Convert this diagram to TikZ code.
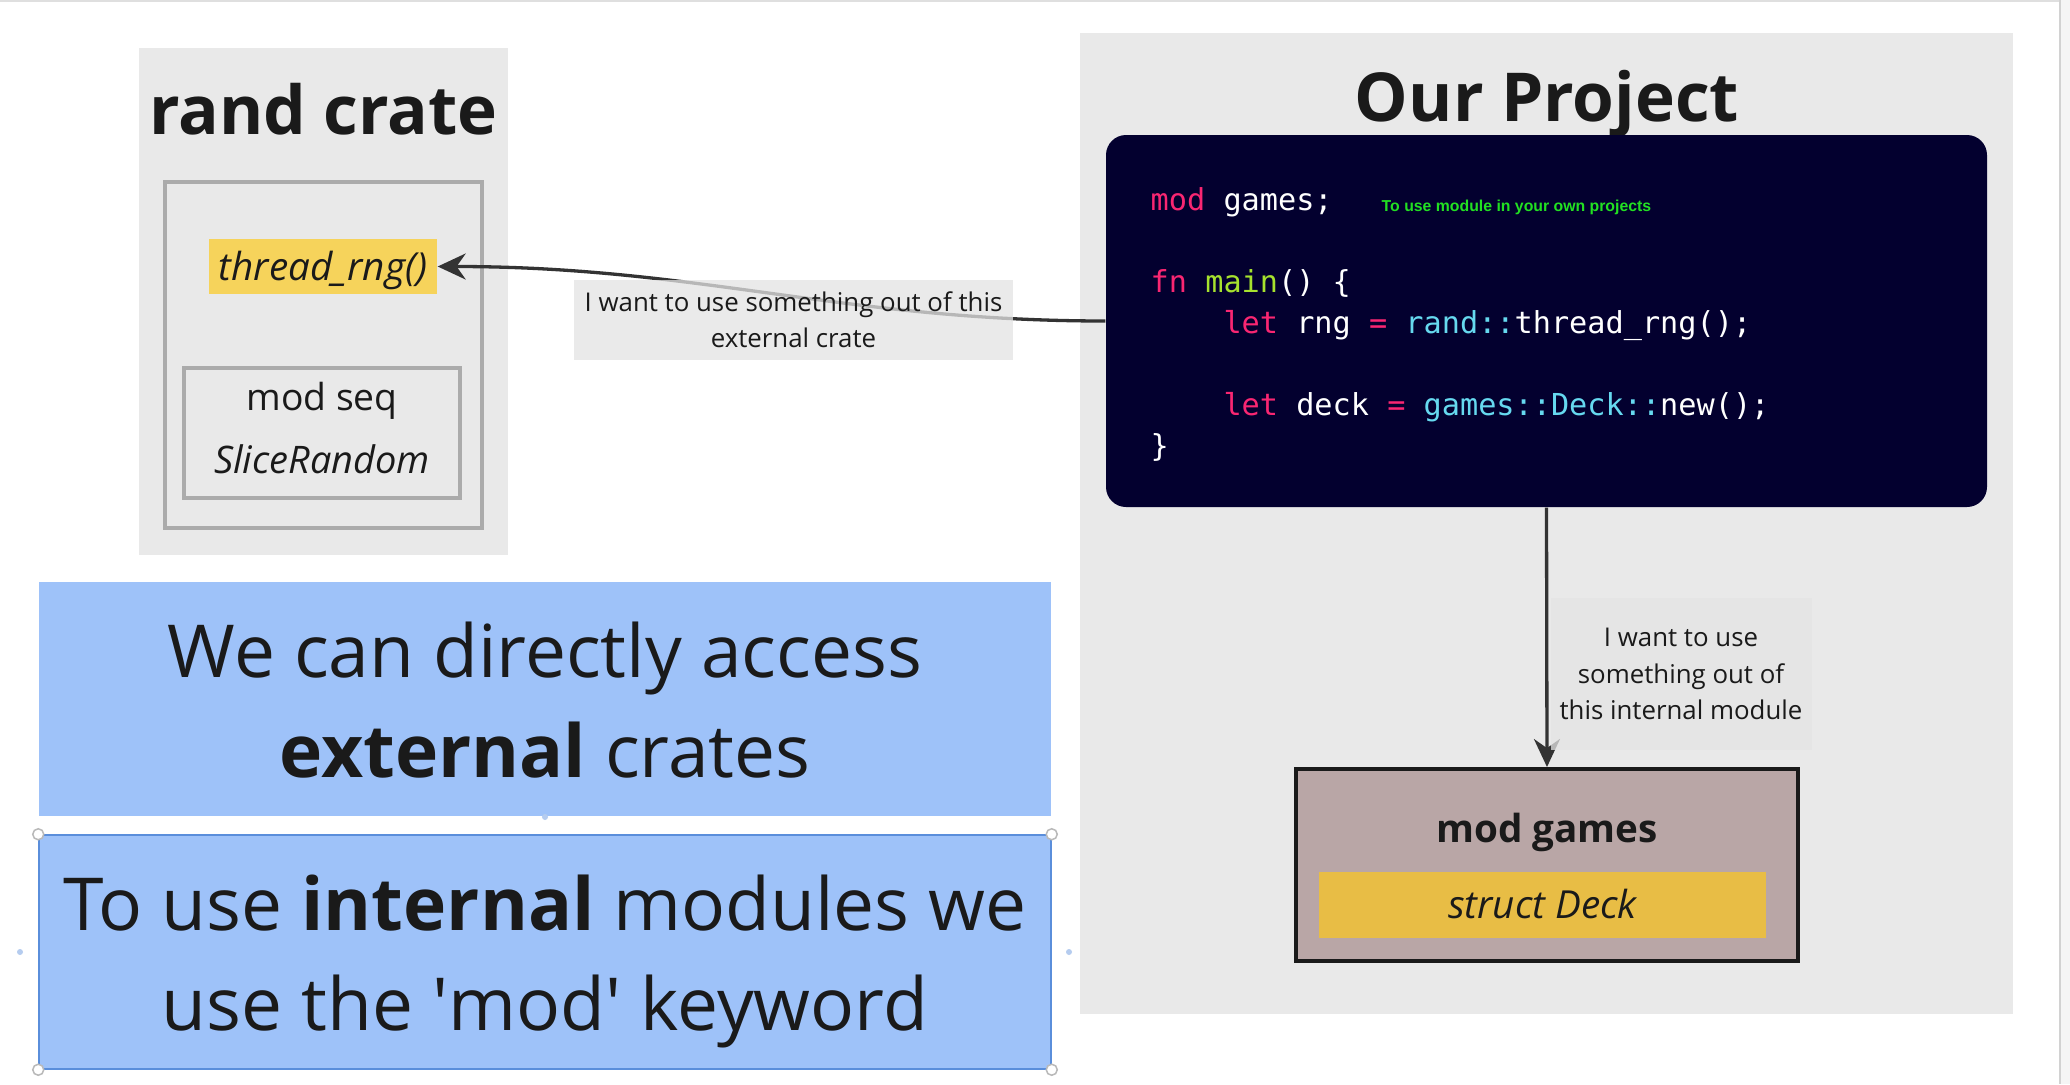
\documentclass[tikz,border=0pt]{standalone}
\usepackage{fontspec}
\setmainfont{Open Sans}
\setmonofont{DejaVu Sans Mono}
\newfontfamily\notefont{Liberation Sans}
\usetikzlibrary{arrows.meta}
\definecolor{PanelGray}{HTML}{E9E9E9}
\definecolor{TagGray}{HTML}{E4E4E4}
\definecolor{FrameGray}{HTML}{ABABAB}
\definecolor{RngYellow}{HTML}{F6D35B}
\definecolor{DeckYellow}{HTML}{E8BD45}
\definecolor{CodeBg}{HTML}{03002F}
\definecolor{KwPink}{HTML}{F92672}
\definecolor{FnGreen}{HTML}{A6E22E}
\definecolor{PathCyan}{HTML}{66D9EF}
\definecolor{Mauve}{HTML}{B9A6A6}
\definecolor{NoteBlue}{HTML}{9EC2F9}
\definecolor{NoteEdge}{HTML}{5A8EDB}
\definecolor{Ink}{HTML}{1A1A1A}
\definecolor{LinkInk}{HTML}{333333}
\definecolor{HintGreen}{HTML}{22E022}

\begin{document}
\begin{tikzpicture}[x=0.1mm,y=-0.1mm,>={Stealth[length=2.8mm,width=2.6mm]},
    every node/.style={text=Ink},
    panel/.style={fill=PanelGray,inner sep=0pt},
    frame/.style={draw=FrameGray,line width=0.4mm,inner sep=0pt},
    link/.style={->,draw=LinkInk,line width=0.33mm},
    tag/.style={fill=TagGray,inner sep=0pt,align=center,font=\fontsize{7.35}{10.3}\selectfont},
    note/.style={fill=NoteBlue,inner sep=0pt,minimum width=101.2mm,minimum height=23.4mm},
    notetext/.style={anchor=base,align=center,inner sep=0pt,font=\fontsize{20.8}{28.45}\selectfont},
    handle/.style={circle,draw=gray!55,fill=white,line width=0.15mm,inner sep=0pt,minimum size=1.1mm},
    dot/.style={circle,fill=NoteEdge!45,inner sep=0pt,minimum size=0.6mm}]
      \fill[white] (0,0) rectangle (2070,1084);
      \useasboundingbox (0,0) rectangle (2070,1084);
      \draw[gray!25,line width=0.2mm] (0,1) -- (2060,1);
      \fill[gray!8] (2060,0) rectangle (2070,1084);
      \draw[gray!35,line width=0.15mm] (2060,0) -- (2060,1084);

      % rand crate
      \node[panel,minimum width=36.9mm,minimum height=50.7mm] (randpanel) at (323.5,301.5) {};
      \node[anchor=base,font=\fontsize{19.2}{23}\selectfont\bfseries] (randtitle) at (323.5,134) {rand crate};
      \node[frame,minimum width=31.7mm,minimum height=34.6mm] (cratebox) at (323.5,355) {};
      \node[anchor=base,fill=RngYellow,inner sep=0pt,minimum width=22.8mm,text height=4.1mm,text depth=1.4mm,
        font=\fontsize{11}{13}\selectfont\itshape] (threadrng) at (323,280) {thread\_rng()};
      \node[frame,minimum width=27.6mm,minimum height=13mm] (seqbox) at (322,433) {};
      \node[anchor=base,font=\fontsize{10.6}{12}\selectfont] (seqname) at (322,410) {mod seq};
      \node[anchor=base,font=\fontsize{10.8}{12}\selectfont\itshape] (slicerandom) at (322,473) {SliceRandom};

      % our project
      \node[panel,minimum width=93.3mm,minimum height=98.1mm] (projpanel) at (1546.5,523.5) {};
      \node[anchor=base,font=\fontsize{19.2}{23}\selectfont\bfseries] (projtitle) at (1547,121) {Our Project};
      \node[fill=CodeBg,rounded corners=2mm,inner sep=0pt,minimum width=88.1mm,minimum height=37.2mm] (codebox) at (1546.5,321) {};
      \node[anchor=base west,align=left,inner sep=0pt,text=white,font=\fontsize{8.6}{11.66}\selectfont\ttfamily] (code) at (1150,456)
        {\textcolor{KwPink}{mod} games;\\
         \mbox{}\\
         \textcolor{KwPink}{fn} \textcolor{FnGreen}{main}() \{\\
         \ \ \ \ \textcolor{KwPink}{let} rng \textcolor{KwPink}{=} \textcolor{PathCyan}{rand::}thread\_rng();\\
         \mbox{}\\
         \ \ \ \ \textcolor{KwPink}{let} deck \textcolor{KwPink}{=} \textcolor{PathCyan}{games::Deck::}new();\\
         \}};
      \node[anchor=west,inner sep=0pt,text=HintGreen,font=\notefont\fontsize{4.5}{5.5}\selectfont\bfseries] (codehint) at (1381,207)
        {To use module in your own projects};

      \node[draw=Ink,fill=Mauve,line width=0.4mm,inner sep=0pt,minimum width=50.2mm,minimum height=19.2mm] (modgames) at (1547,865) {};
      \node[anchor=base,font=\fontsize{11}{13}\selectfont\bfseries] (gamesname) at (1547,842) {mod games};
      \node[anchor=base,fill=DeckYellow,inner sep=0pt,minimum width=44.7mm,text height=4.6mm,text depth=2mm,
        font=\fontsize{11}{13}\selectfont\itshape] (deck) at (1542.5,918) {struct Deck};

      % connectors
      \draw[link] (codebox.west) to[out=180,in=0] (threadrng.east);
      \draw[link] (codebox.south) -- (modgames.north);

      \node[tag,fill opacity=0.75,text opacity=1,minimum width=43.9mm,minimum height=8mm] (extlabel) at (793.5,320)
        {I want to use something out of this\\external crate};
      \node[tag,fill opacity=0.75,text opacity=1,minimum width=26.1mm,minimum height=15.2mm] (intlabel) at (1681,674)
        {I want to use\\something out of\\this internal module};

      % notes
      \node[note] (extnote) at (545,699) {};
      \node[notetext] (exttext) at (545,777) {We can directly access\\\textbf{external} crates};
      \node[note,draw=NoteEdge,line width=0.15mm] (intnote) at (545,952) {};
      \node[notetext] (inttext) at (545,1030) {To use \textbf{internal} modules we\\use the \textquotesingle mod\textquotesingle\ keyword};
      \foreach \a in {north west,north east,south west,south east}
        \node[handle] (h-\a) at (intnote.\a) {};
      \node[dot] (d-left) at (20,952) {};
      \node[dot] (d-right) at (1069,952) {};
      \node[dot] (d-top) at (545,817) {};
    \end{tikzpicture}
\end{document}
